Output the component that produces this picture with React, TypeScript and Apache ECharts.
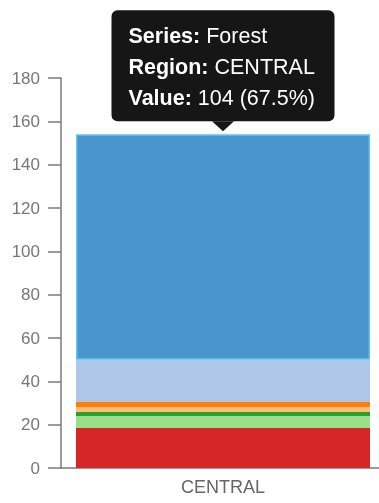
import React, { useEffect, useRef } from "react";
import * as echarts from "echarts";

const regions = ["CENTRAL"];
const seriesNames = ["Red", "Light Green", "Green", "Peach", "Orange", "Light Blue", "Forest"];
const seriesValues = [18.5, 5.5, 2, 2, 2.5, 19.5, 104];
const seriesColors = ["#d62728", "#98df8a", "#2ca02c", "#ffbb78", "#ff7f0e", "#aec7e8", "#4a96cc"];
const yTicks = [0, 20, 40, 60, 80, 100, 120, 140, 160, 180];
const tipSeries = "Forest";
const tipRegion = "CENTRAL";

export default function App() {
  const ref = useRef<HTMLDivElement>(null);
  useEffect(() => {
    if (!ref.current) return;
    const chart = echarts.init(ref.current, null, { renderer: "svg" });
    const total = seriesValues.reduce((a, b) => a + b, 0);
    const tipIdx = seriesNames.indexOf(tipSeries);
    const tipVal = seriesValues[tipIdx];
    const pct = ((tipVal / total) * 100).toFixed(1);
    const axisColor = "#7a7a7a";
    chart.setOption({
      animation: false,
      grid: { left: 61, right: 0, top: 78, bottom: 35 },
      xAxis: {
        type: "category",
        data: regions,
        axisLine: { lineStyle: { color: axisColor, width: 1.5 } },
        axisTick: { show: false },
        axisLabel: { color: "#666", fontSize: 18, fontFamily: "Liberation Sans, Arial", margin: 10 },
      },
      yAxis: {
        type: "value",
        min: yTicks[0],
        max: yTicks[yTicks.length - 1],
        interval: 20,
        splitLine: { show: false },
        axisLine: { show: true, lineStyle: { color: axisColor, width: 1.5 } },
        axisTick: { show: true, length: 13, lineStyle: { color: axisColor, width: 1.5 } },
        axisLabel: { color: "#777", fontSize: 17, fontFamily: "Liberation Sans, Arial", margin: 21 },
      },
      series: seriesNames.map((name, i) => ({
        name,
        type: "bar",
        stack: "total",
        barWidth: 294,
        data: [seriesValues[i]],
        itemStyle:
          name === tipSeries
            ? { color: seriesColors[i], borderColor: "#5cc4f6", borderWidth: 1.5 }
            : { color: seriesColors[i] },
      })),
    });
    const base = seriesValues.slice(0, tipIdx + 1).reduce((a, b) => a + b, 0);
    const [cx, topY] = chart.convertToPixel({ gridIndex: 0 }, [0, base]) as number[];
    const w = 223;
    const h = 111;
    const boxX = cx - w / 2;
    const tipY = topY - 3;
    const boxY = tipY - 10 - h;
    chart.setOption({
      graphic: [
        {
          type: "group",
          children: [
            {
              type: "rect",
              shape: { x: boxX, y: boxY, width: w, height: h, r: 6 },
              style: { fill: "#161616" },
            },
            {
              type: "polygon",
              shape: { points: [[cx - 11, boxY + h], [cx + 11, boxY + h], [cx, tipY]] },
              style: { fill: "#161616" },
            },
            {
              type: "text",
              x: boxX + 17,
              y: boxY + 10,
              style: {
                text: `{b|Series:} ${tipSeries}\n{b|Region:} ${tipRegion}\n{b|Value:} ${tipVal} (${pct}%)`,
                fill: "#fff",
                fontSize: 21.5,
                fontFamily: "Liberation Sans, Arial",
                lineHeight: 31,
                rich: {
                  b: { fontWeight: "bold", fontSize: 21.5, fill: "#fff", lineHeight: 31, fontFamily: "Liberation Sans, Arial" },
                },
              },
            },
          ],
        },
      ],
    });
    return () => chart.dispose();
  }, []);
  return <div ref={ref} style={{ position: "fixed", left: 0, top: 0, width: 385, height: 503 }} />;
}
